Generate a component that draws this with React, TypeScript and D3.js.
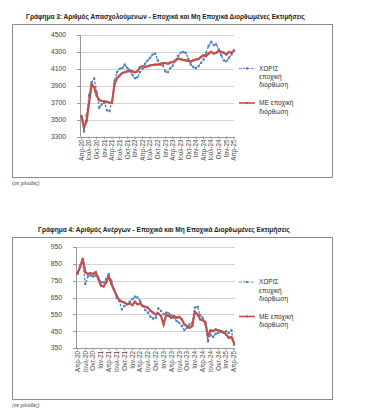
import React from "react";
import * as d3 from "d3";

// quarterly tick labels, monthly data Apr-20 .. Apr-25 (61 months)
const tickLabels = [
  "Απρ-20", "Ιουλ-20", "Οκτ-20", "Ιαν-21", "Απρ-21", "Ιουλ-21", "Οκτ-21",
  "Ιαν-22", "Απρ-22", "Ιουλ-22", "Οκτ-22", "Ιαν-23", "Απρ-23", "Ιουλ-23",
  "Οκτ-23", "Ιαν-24", "Απρ-24", "Ιουλ-24", "Οκτ-24", "Ιαν-25", "Απρ-25",
];

// Chart 3: employed (thousands)
const empNsa = [
  3530, 3360, 3550, 3790, 3940, 3985, 3820, 3640, 3680, 3700, 3610, 3600,
  3720, 3960, 4060, 4100, 4110, 4150, 4110, 4080, 4030, 3990, 4000, 4060,
  4100, 4160, 4200, 4230, 4270, 4280, 4200, 4150, 4140, 4070, 4060, 4110,
  4140, 4200, 4250, 4290, 4300, 4290, 4220, 4150, 4120, 4110, 4130, 4170,
  4210, 4290, 4370, 4420, 4380, 4390, 4330, 4260, 4200, 4190, 4230, 4270,
  4320,
];
const empSa = [
  3545, 3410, 3480, 3700, 3920, 3880, 3780, 3730, 3720, 3715, 3710, 3700,
  3695, 3920, 3990, 4020, 4050, 4060, 4070, 4075, 4070, 4060, 4070, 4120,
  4130, 4120, 4130, 4140, 4145, 4150, 4150, 4160, 4165, 4170, 4160, 4175,
  4180, 4200, 4220, 4215, 4205, 4200, 4195, 4185, 4200, 4210, 4215, 4240,
  4260, 4250, 4280, 4300, 4280, 4290, 4310, 4300, 4290, 4270, 4300, 4290,
  4315,
];
const empTicks = [3300, 3500, 3700, 3900, 4100, 4300, 4500];

// Chart 4: unemployed (thousands)
const unNsa = [
  790, 840, 870, 730, 775, 780, 775, 780, 770, 740, 740, 760,
  790, 750, 700, 650, 630, 580, 600, 610, 625, 640, 655, 650,
  630, 600, 575, 560, 535, 525, 530, 585, 570, 550, 560, 555,
  545, 530, 510, 500, 480, 457, 470, 490, 500, 590, 595, 545,
  530, 490, 390, 430, 415, 435, 440, 445, 440, 450, 440, 455,
  370,
];
const unSa = [
  794, 830, 880, 800, 790, 795, 790, 800, 760, 720, 715, 740,
  775, 730, 695, 660, 635, 625, 620, 610, 615, 605, 625, 610,
  615, 600, 595, 590, 570, 560, 550, 555, 540, 490, 545, 540,
  530, 540, 530, 535, 520, 490, 480, 470, 480, 565, 550, 520,
  515, 505, 420, 455, 450, 460, 455, 450, 445, 430, 410, 415,
  380,
];
const unTicks = [350, 450, 550, 650, 750, 850, 950];

const BLUE = "#4F81BD";
const RED = "#C0504D";
const FONT = "'Liberation Sans', Arial, sans-serif";

type ChartProps = {
  top: number;
  title: string;
  titleX: number;
  titleW: number;
  frameH: number;
  nsa: number[];
  sa: number[];
  ticks: number[];
  plotL: number;
  plotR: number;
  firstX: number;
  lastX: number;
  yTop: number;
  yBot: number;
  legendY: number;
};

function Chart(p: ChartProps) {
  const idx = d3.range(p.nsa.length);
  const x = d3.scalePoint<number>().domain(idx).range([p.firstX, p.lastX]);
  const y = d3
    .scaleLinear()
    .domain([p.ticks[0], p.ticks[p.ticks.length - 1]])
    .range([p.yBot, p.yTop]);
  const line = (vals: number[]) =>
    d3
      .line<number>()
      .x((_, i) => x(i) as number)
      .y((d) => y(d))(vals) as string;
  const frameTop = p.top + 6;

  return (
    <g>
      <text
        x={p.titleX}
        y={p.top + 1}
        fontSize={7}
        fontWeight="bold"
        fill="#222"
        textLength={p.titleW}
        lengthAdjust="spacingAndGlyphs"
      >
        {p.title}
      </text>
      <rect
        x={12.5}
        y={frameTop + 0.5}
        width={320}
        height={p.frameH}
        fill="#fff"
        stroke="#8c8c8c"
        strokeWidth={1}
      />
      {p.ticks.map((t) => (
        <g key={t}>
          <line
            x1={p.plotL}
            x2={p.plotR}
            y1={Math.round(y(t)) + 0.5}
            y2={Math.round(y(t)) + 0.5}
            stroke="#d4d4d4"
          />
          <line
            x1={p.plotL - 3}
            x2={p.plotL}
            y1={Math.round(y(t)) + 0.5}
            y2={Math.round(y(t)) + 0.5}
            stroke="#999"
          />
          <text
            x={p.plotL - 14}
            y={y(t) + 2.4}
            fontSize={6.8}
            textAnchor="end"
            fill="#444"
          >
            {t}
          </text>
        </g>
      ))}
      <line
        x1={p.plotL + 0.5}
        x2={p.plotL + 0.5}
        y1={p.yTop}
        y2={p.yBot}
        stroke="#999"
      />
      <line
        x1={p.plotL}
        x2={p.plotR}
        y1={Math.round(p.yBot) + 0.5}
        y2={Math.round(p.yBot) + 0.5}
        stroke="#999"
      />
      {idx
        .filter((i) => i % 3 === 0)
        .map((i, k) => (
          <g key={i}>
            <line
              x1={x(i)}
              x2={x(i)}
              y1={p.yBot}
              y2={p.yBot + 2.5}
              stroke="#999"
            />
            <text
              transform={`translate(${(x(i) as number) + 2.3},${p.yBot + 3}) rotate(-90)`}
              fontSize={6.3}
              textAnchor="end"
              fill="#444"
            >
              {tickLabels[k]}
            </text>
          </g>
        ))}
      <path
        d={line(p.nsa)}
        fill="none"
        stroke={BLUE}
        strokeWidth={1.3}
        strokeDasharray="2.5,1.5"
      />
      {p.nsa.map((v, i) => (
        <rect
          key={i}
          x={(x(i) as number) - 1.1}
          y={y(v) - 1.1}
          width={2.2}
          height={2.2}
          fill={BLUE}
        />
      ))}
      <path d={line(p.sa)} fill="none" stroke={RED} strokeWidth={2.2} />
      {p.sa.map((v, i) => (
        <rect
          key={i}
          x={(x(i) as number) - 1}
          y={y(v) - 1}
          width={2}
          height={2}
          fill={RED}
        />
      ))}
      {/* legend */}
      <g fontSize={6.6} fill="#333">
        <line
          x1={239}
          x2={255}
          y1={p.legendY}
          y2={p.legendY}
          stroke={BLUE}
          strokeWidth={1.2}
          strokeDasharray="2.5,1.5"
        />
        <rect x={246} y={p.legendY - 1.1} width={2.2} height={2.2} fill={BLUE} />
        <text x={259} y={p.legendY + 2.3}>ΧΩΡΙΣ</text>
        <text x={259} y={p.legendY + 10.6}>εποχική</text>
        <text x={259} y={p.legendY + 18.9}>διόρθωση</text>
        <line
          x1={239}
          x2={255}
          y1={p.legendY + 34.5}
          y2={p.legendY + 34.5}
          stroke={RED}
          strokeWidth={1.6}
        />
        <rect x={246} y={p.legendY + 33.5} width={2} height={2} fill={RED} />
        <text x={259} y={p.legendY + 36.8}>ΜΕ εποχική</text>
        <text x={259} y={p.legendY + 45.1}>διόρθωση</text>
      </g>
      <text
        x={12}
        y={frameTop + p.frameH + 8}
        fontSize={5}
        fontStyle="italic"
        fill="#444"
      >
        (σε χιλιάδες)
      </text>
    </g>
  );
}

export default function App() {
  return (
    <div style={{ position: "absolute", left: 0, top: 0 }}>
      <svg width={365} height={412} style={{ display: "block", fontFamily: FONT }}>
        <rect width={365} height={412} fill="#fff" />
        <Chart
          top={18}
          title="Γράφημα 3: Αριθμός Απασχολούμενων - Εποχικά και Μη Εποχικά Διορθωμένες Εκτιμήσεις"
          titleX={26}
          titleW={279}
          frameH={153}
          nsa={empNsa}
          sa={empSa}
          ticks={empTicks}
          plotL={80}
          plotR={234}
          firstX={81.5}
          lastX={234}
          yTop={35}
          yBot={136.5}
          legendY={68.5}
        />
        <Chart
          top={231}
          title="Γράφημα 4: Αριθμός Ανέργων - Εποχικά και Μη Εποχικά Διορθωμένες Εκτιμήσεις"
          titleX={38}
          titleW={252}
          frameH={162}
          nsa={unNsa}
          sa={unSa}
          ticks={unTicks}
          plotL={76}
          plotR={235}
          firstX={77.5}
          lastX={234}
          yTop={247}
          yBot={348}
          legendY={282}
        />
      </svg>
    </div>
  );
}
